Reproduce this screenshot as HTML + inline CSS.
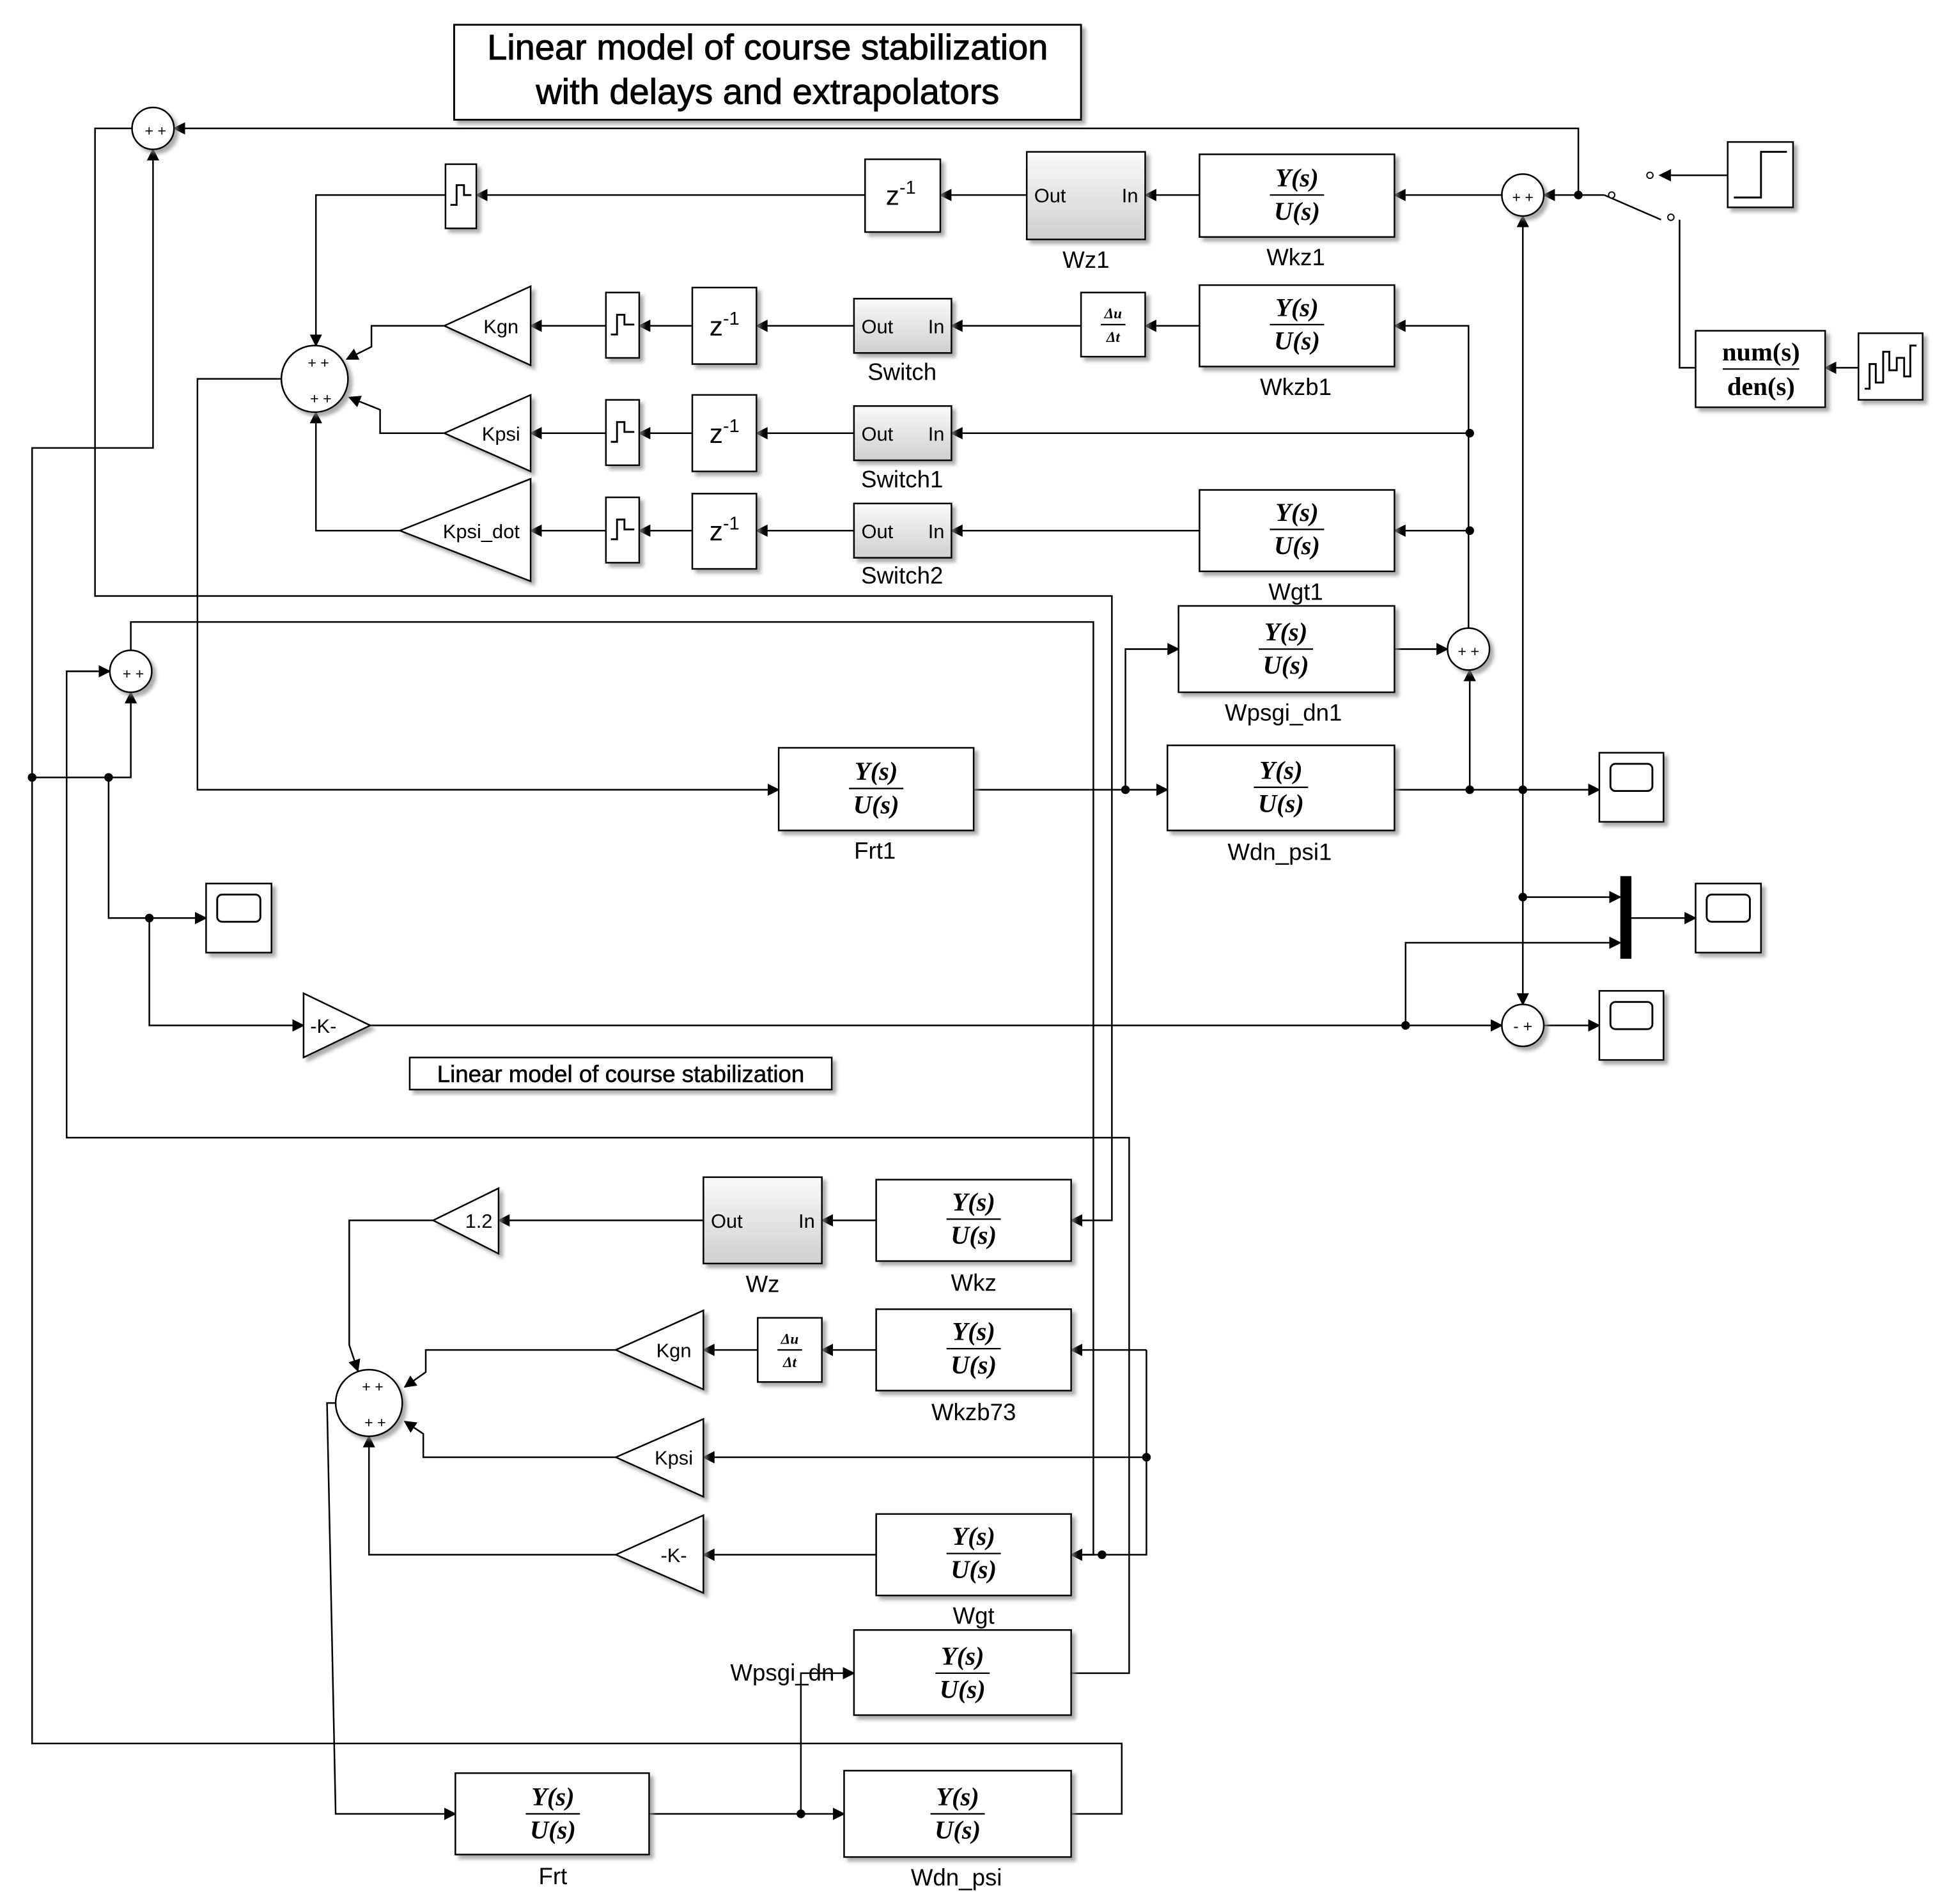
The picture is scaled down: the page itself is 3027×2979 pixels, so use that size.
<!DOCTYPE html>
<html><head><meta charset="utf-8"><style>
html,body{margin:0;padding:0;background:#fff;}
svg{display:block;}
text{font-family:"Liberation Sans",sans-serif;}
.tf text{font-family:"Liberation Serif",serif;font-weight:bold;font-style:italic;font-size:21px;}
.tf text.n{font-style:normal;}
.ser text{font-family:"Liberation Serif",serif;font-weight:bold;font-style:italic;font-size:12px;}
.lb{font-size:19px;}
.sm{font-size:16px;}
</style></head><body>
<svg width="3027" height="2979" viewBox="0 0 1568 1543" xmlns="http://www.w3.org/2000/svg">
<defs>
<marker id="a" markerWidth="10" markerHeight="10" refX="9" refY="5" orient="auto" markerUnits="userSpaceOnUse"><path d="M0,0 L10,5 L0,10 z" fill="#000"/></marker>
<linearGradient id="g" x1="0" y1="0" x2="0" y2="1"><stop offset="0" stop-color="#fafafa"/><stop offset="1" stop-color="#cfcfcf"/></linearGradient>
<filter id="sh" x="-10%" y="-10%" width="130%" height="130%"><feDropShadow dx="3" dy="3" stdDeviation="1.5" flood-color="#888" flood-opacity="0.7"/></filter>
</defs>
<g fill="none" stroke="#000" stroke-width="1.3">
<polyline points="1279,158 1279,104 141,104" marker-end="url(#a)"/>
<polyline points="107,104 77,104 77,483 901,483 901,989 868,989" marker-end="url(#a)"/>
<polyline points="868,1470 909,1470 909,1413 26,1413 26,363 124,363 124,121" marker-end="url(#a)"/>
<polyline points="26,630 88,630 106,630 106,561" marker-end="url(#a)"/>
<polyline points="88,630 88,744 167,744" marker-end="url(#a)"/>
<polyline points="121,744 121,831 246,831" marker-end="url(#a)"/>
<polyline points="868,1356 915,1356 915,922 54,922 54,544 89,544" marker-end="url(#a)"/>
<polyline points="106,527 106,504 886,504 886,1260 868,1260" marker-end="url(#a)"/>
<polyline points="929,1094 929,1260 868,1260"/>
<polyline points="929,1094 868,1094" marker-end="url(#a)"/>
<polyline points="929,1181 570,1181" marker-end="url(#a)"/>
<polyline points="228,307 160,307 160,640 631,640" marker-end="url(#a)"/>
<polyline points="789,640 946,640" marker-end="url(#a)"/>
<polyline points="912,640 912,526 955,526" marker-end="url(#a)"/>
<polyline points="1130,526 1173,526" marker-end="url(#a)"/>
<polyline points="1130,640 1296,640" marker-end="url(#a)"/>
<polyline points="1191,640 1191,543" marker-end="url(#a)"/>
<polyline points="1190,509 1190,264 1130,264" marker-end="url(#a)"/>
<polyline points="1191,351 771,351" marker-end="url(#a)"/>
<polyline points="1191,430 1130,430" marker-end="url(#a)"/>
<polyline points="972,430 771,430" marker-end="url(#a)"/>
<polyline points="1234,640 1234,175" marker-end="url(#a)"/>
<polyline points="1234,640 1234,814" marker-end="url(#a)"/>
<polyline points="1234,727 1313,727" marker-end="url(#a)"/>
<polyline points="1322,744 1374,744" marker-end="url(#a)"/>
<polyline points="300,831 1217,831" marker-end="url(#a)"/>
<polyline points="1139,831 1139,764 1313,764" marker-end="url(#a)"/>
<polyline points="1251,831 1296,831" marker-end="url(#a)"/>
<polyline points="1300,158 1251,158" marker-end="url(#a)"/>
<polyline points="1217,158 1130,158" marker-end="url(#a)"/>
<polyline points="972,158 928,158" marker-end="url(#a)"/>
<polyline points="832,158 762,158" marker-end="url(#a)"/>
<polyline points="701,158 386,158" marker-end="url(#a)"/>
<polyline points="361,158 256,158 256,280" marker-end="url(#a)"/>
<polyline points="972,264 928,264" marker-end="url(#a)"/>
<polyline points="876,264 771,264" marker-end="url(#a)"/>
<polyline points="692,264 613,264" marker-end="url(#a)"/>
<polyline points="561,264 518,264" marker-end="url(#a)"/>
<polyline points="491,264 430,264" marker-end="url(#a)"/>
<polyline points="360,264 301,264 301,281 281,291" marker-end="url(#a)"/>
<polyline points="692,351 613,351" marker-end="url(#a)"/>
<polyline points="561,351 518,351" marker-end="url(#a)"/>
<polyline points="491,351 430,351" marker-end="url(#a)"/>
<polyline points="360,351 308,351 308,332 283,322" marker-end="url(#a)"/>
<polyline points="692,430 613,430" marker-end="url(#a)"/>
<polyline points="561,430 518,430" marker-end="url(#a)"/>
<polyline points="491,430 430,430" marker-end="url(#a)"/>
<polyline points="324,430 256,430 256,334" marker-end="url(#a)"/>
<polyline points="1400,142 1345,142" marker-end="url(#a)"/>
<polyline points="1506,298 1479,298" marker-end="url(#a)"/>
<polyline points="1374,298 1361,298 1361,178"/>
<line x1="1300" y1="158" x2="1346" y2="178"/>
<polyline points="710,989 666,989" marker-end="url(#a)"/>
<polyline points="570,989 404,989" marker-end="url(#a)"/>
<polyline points="351,989 283,989 283,1090 290,1111" marker-end="url(#a)"/>
<polyline points="710,1094 666,1094" marker-end="url(#a)"/>
<polyline points="614,1094 570,1094" marker-end="url(#a)"/>
<polyline points="499,1094 345,1094 345,1112 328,1124" marker-end="url(#a)"/>
<polyline points="499,1181 343,1181 343,1162 328,1152" marker-end="url(#a)"/>
<polyline points="499,1260 299,1260 299,1164" marker-end="url(#a)"/>
<polyline points="710,1260 570,1260" marker-end="url(#a)"/>
<polyline points="272,1137 265,1137 272,1470 369,1470" marker-end="url(#a)"/>
<polyline points="526,1470 684,1470" marker-end="url(#a)"/>
<polyline points="649,1470 649,1356 692,1356" marker-end="url(#a)"/>
</g>
<g fill="#000">
<circle cx="1279" cy="158" r="3.5"/><circle cx="26" cy="630" r="3.5"/><circle cx="88" cy="630" r="3.5"/>
<circle cx="121" cy="744" r="3.5"/><circle cx="912" cy="640" r="3.5"/><circle cx="1191" cy="640" r="3.5"/>
<circle cx="1234" cy="640" r="3.5"/><circle cx="1191" cy="351" r="3.5"/><circle cx="1191" cy="430" r="3.5"/>
<circle cx="1234" cy="727" r="3.5"/><circle cx="1139" cy="831" r="3.5"/><circle cx="929" cy="1181" r="3.5"/>
<circle cx="893" cy="1260" r="3.5"/><circle cx="649" cy="1470" r="3.5"/>
<circle cx="1306" cy="158" r="2.5" fill="#fff" stroke="#000"/><circle cx="1337" cy="142" r="2.5" fill="#fff" stroke="#000"/>
<circle cx="1354" cy="176" r="2.5" fill="#fff" stroke="#000"/>
</g>
<rect x="368" y="20" width="508" height="77" fill="#fff" stroke="#000" stroke-width="1.5" filter="url(#sh)"/>
<text x="622" y="48" text-anchor="middle" font-size="29" stroke="#000" stroke-width="0.5">Linear model of course stabilization</text>
<text x="622" y="84" text-anchor="middle" font-size="29" stroke="#000" stroke-width="0.5">with delays and extrapolators</text>
<rect x="332" y="857" width="342" height="26" fill="#fff" stroke="#000" stroke-width="1.3" filter="url(#sh)"/>
<text x="503" y="877" text-anchor="middle" font-size="19" stroke="#000" stroke-width="0.3">Linear model of course stabilization</text>
<g fill="#fff" stroke="#000" stroke-width="1.3" filter="url(#sh)">
<rect x="972" y="125" width="158" height="67"/><rect x="972" y="231" width="158" height="66"/>
<rect x="972" y="397" width="158" height="66"/><rect x="955" y="491" width="175" height="70"/>
<rect x="946" y="604" width="184" height="69"/><rect x="631" y="606" width="158" height="67"/>
<rect x="710" y="956" width="158" height="66"/><rect x="710" y="1061" width="158" height="66"/>
<rect x="710" y="1227" width="158" height="66"/><rect x="692" y="1321" width="176" height="69"/>
<rect x="369" y="1437" width="157" height="66"/><rect x="684" y="1435" width="184" height="70"/>
<rect x="1374" y="268" width="105" height="62"/>
<rect x="701" y="129" width="61" height="59"/><rect x="561" y="233" width="52" height="62"/>
<rect x="561" y="320" width="52" height="62"/><rect x="561" y="400" width="52" height="61"/>
<rect x="361" y="133" width="25" height="52"/><rect x="491" y="237" width="27" height="53"/>
<rect x="491" y="324" width="27" height="53"/><rect x="491" y="403" width="27" height="53"/>
<rect x="876" y="237" width="52" height="52"/><rect x="614" y="1068" width="52" height="52"/>
<rect x="1296" y="610" width="52" height="56"/><rect x="167" y="716" width="53" height="56"/>
<rect x="1374" y="716" width="53" height="56"/><rect x="1296" y="803" width="52" height="56"/>
<rect x="1400" y="115" width="53" height="53"/><rect x="1506" y="270" width="52" height="54"/>
</g>
<g fill="url(#g)" stroke="#000" stroke-width="1.3" filter="url(#sh)">
<rect x="832" y="123" width="96" height="71"/><rect x="692" y="242" width="79" height="44"/>
<rect x="692" y="329" width="79" height="44"/><rect x="692" y="408" width="79" height="44"/>
<rect x="570" y="954" width="96" height="70"/>
</g>
<rect x="1313" y="710" width="9" height="67" fill="#000"/>
<g fill="none" stroke="#000" stroke-width="1.5">
<rect x="1305" y="619" width="34" height="22" rx="4"/><rect x="176" y="725" width="35" height="22" rx="4"/>
<rect x="1383" y="725" width="35" height="22" rx="4"/><rect x="1305" y="812" width="34" height="22" rx="4"/>
<polyline points="1405,160 1427,160 1427,123 1448,123"/>
<polyline points="1511,315 1515,315 1515,295 1520,295 1520,310 1526,310 1526,285 1531,285 1531,300 1537,300 1537,290 1543,290 1543,305 1548,305 1548,280 1553,280"/>
<polyline points="365,166 370,166 370,150 376,150 376,158 382,158"/>
<polyline points="495,271 500,271 500,255 506,255 506,263 514,263"/>
<polyline points="495,358 500,358 500,342 506,342 506,350 514,350"/>
<polyline points="495,437 500,437 500,421 506,421 506,429 514,429"/>
</g>
<g fill="#fff" stroke="#000" stroke-width="1.3" filter="url(#sh)">
<polygon points="360,264 430,232 430,296"/><polygon points="360,351 430,320 430,382"/>
<polygon points="324,430 430,388 430,471"/><polygon points="351,989 404,963 404,1016"/>
<polygon points="499,1094 570,1062 570,1126"/><polygon points="499,1181 570,1150 570,1213"/>
<polygon points="499,1260 570,1228 570,1291"/><polygon points="300,831 246,805 246,857"/>
<circle cx="124" cy="104" r="17"/><circle cx="255" cy="307" r="27"/><circle cx="106" cy="544" r="17"/>
<circle cx="1234" cy="158" r="17"/><circle cx="1190" cy="526" r="17"/><circle cx="1234" cy="831" r="17"/>
<circle cx="299" cy="1137" r="27"/>
</g>
<g class="sm" text-anchor="middle">
<text x="406" y="270">Kgn</text><text x="406" y="357">Kpsi</text><text x="390" y="436">Kpsi_dot</text>
<text x="388" y="995">1.2</text><text x="546" y="1100">Kgn</text><text x="546" y="1187">Kpsi</text>
<text x="546" y="1266">-K-</text><text x="262" y="837">-K-</text>
<text x="126" y="110" font-size="12">+ +</text><text x="108" y="550" font-size="12">+ +</text>
<text x="1234" y="164" font-size="12">+ +</text><text x="1190" y="532" font-size="12">+ +</text>
<text x="1234" y="836" font-size="13">- +</text>
<text x="258" y="298" font-size="12">+ +</text><text x="260" y="327" font-size="12">+ +</text>
<text x="302" y="1128" font-size="12">+ +</text><text x="304" y="1157" font-size="12">+ +</text>
</g>
<g class="sm">
<text x="838" y="164">Out</text><text x="909" y="164">In</text>
<text x="698" y="270">Out</text><text x="752" y="270">In</text>
<text x="698" y="357">Out</text><text x="752" y="357">In</text>
<text x="698" y="436">Out</text><text x="752" y="436">In</text>
<text x="576" y="995">Out</text><text x="647" y="995">In</text>
</g>
<g font-size="22" text-anchor="middle">
<text x="730" y="166">z<tspan font-size="15" dy="-9">-1</tspan></text>
<text x="587" y="272">z<tspan font-size="15" dy="-9">-1</tspan></text>
<text x="587" y="359">z<tspan font-size="15" dy="-9">-1</tspan></text>
<text x="587" y="438">z<tspan font-size="15" dy="-9">-1</tspan></text>
</g>
<g class="ser" text-anchor="middle">
<text x="902" y="258">Δu</text><text x="902" y="277">Δt</text>
<text x="640" y="1089">Δu</text><text x="640" y="1108">Δt</text>
</g>
<g class="tf" text-anchor="middle">
<text x="1051" y="151">Y(s)</text><text x="1051" y="178">U(s)</text>
<text x="1051" y="256">Y(s)</text><text x="1051" y="283">U(s)</text>
<text x="1051" y="422">Y(s)</text><text x="1051" y="449">U(s)</text>
<text x="1042" y="519">Y(s)</text><text x="1042" y="546">U(s)</text>
<text x="1038" y="631">Y(s)</text><text x="1038" y="658">U(s)</text>
<text x="710" y="632">Y(s)</text><text x="710" y="659">U(s)</text>
<text x="789" y="981">Y(s)</text><text x="789" y="1008">U(s)</text>
<text x="789" y="1086">Y(s)</text><text x="789" y="1113">U(s)</text>
<text x="789" y="1252">Y(s)</text><text x="789" y="1279">U(s)</text>
<text x="780" y="1349">Y(s)</text><text x="780" y="1376">U(s)</text>
<text x="448" y="1463">Y(s)</text><text x="448" y="1490">U(s)</text>
<text x="776" y="1463">Y(s)</text><text x="776" y="1490">U(s)</text>
<text class="n" x="1427" y="292">num(s)</text><text class="n" x="1427" y="320">den(s)</text>
</g>
<g stroke="#000" stroke-width="1.2">
<line x1="892" y1="263" x2="912" y2="263"/><line x1="630" y1="1094" x2="650" y2="1094"/>
<line x1="1029" y1="158" x2="1073" y2="158"/><line x1="1029" y1="263" x2="1073" y2="263"/>
<line x1="1029" y1="429" x2="1073" y2="429"/><line x1="1020" y1="526" x2="1064" y2="526"/>
<line x1="1016" y1="638" x2="1060" y2="638"/><line x1="688" y1="639" x2="732" y2="639"/>
<line x1="767" y1="988" x2="811" y2="988"/><line x1="767" y1="1093" x2="811" y2="1093"/>
<line x1="767" y1="1259" x2="811" y2="1259"/><line x1="758" y1="1356" x2="802" y2="1356"/>
<line x1="426" y1="1470" x2="470" y2="1470"/><line x1="754" y1="1470" x2="798" y2="1470"/>
<line x1="1396" y1="299" x2="1458" y2="299"/>
</g>
<g class="lb" text-anchor="middle">
<text x="1050" y="215">Wkz1</text><text x="880" y="217">Wz1</text><text x="1050" y="320">Wkzb1</text>
<text x="731" y="308">Switch</text><text x="731" y="395">Switch1</text><text x="731" y="473">Switch2</text>
<text x="1050" y="486">Wgt1</text><text x="1040" y="584">Wpsgi_dn1</text><text x="1037" y="697">Wdn_psi1</text>
<text x="709" y="696">Frt1</text><text x="789" y="1046">Wkz</text><text x="618" y="1047">Wz</text>
<text x="789" y="1151">Wkzb73</text><text x="789" y="1316">Wgt</text><text x="634" y="1362">Wpsgi_dn</text>
<text x="448" y="1527">Frt</text><text x="775" y="1528">Wdn_psi</text>
</g>
</svg>
</body></html>
